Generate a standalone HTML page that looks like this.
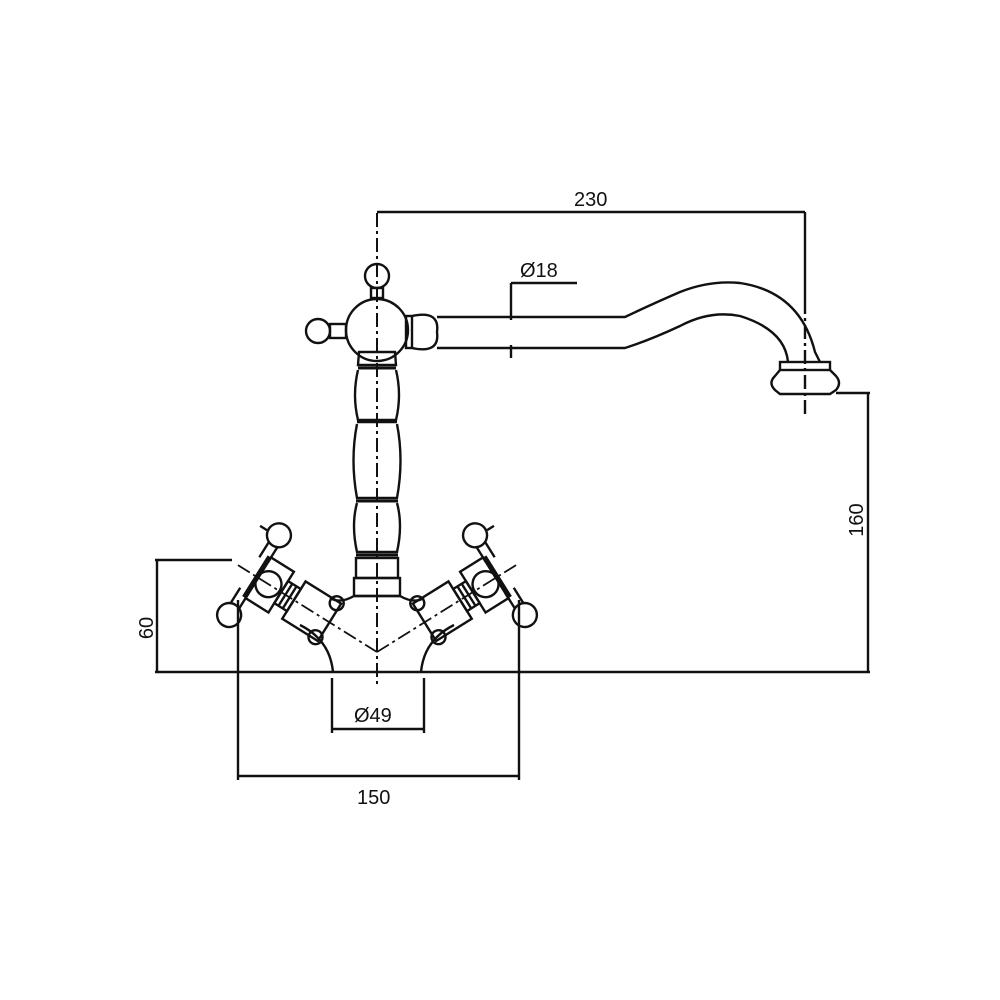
<!DOCTYPE html>
<html><head><meta charset="utf-8"><style>
html,body{margin:0;padding:0;background:#fff;}
svg{display:block}
text{font-family:"Liberation Sans",Arial,sans-serif;font-size:20px;fill:#111}
</style></head><body>
<svg width="1000" height="1000" viewBox="0 0 1000 1000" xmlns="http://www.w3.org/2000/svg">
<g fill="none" stroke="#111" stroke-width="2.4">
<line x1="377" y1="213" x2="377" y2="685" stroke-dasharray="14,4,3,4" stroke-width="2"/>
<line x1="377" y1="212" x2="805" y2="212"/>
<line x1="805" y1="212" x2="805" y2="300"/>
<line x1="805" y1="300" x2="805" y2="418" stroke-dasharray="14,4,3,4"/>
<circle cx="377" cy="276" r="12"/>
<rect x="371" y="288" width="12" height="10"/>
<circle cx="377" cy="330" r="31"/>
<circle cx="318" cy="331" r="12"/>
<rect x="330" y="324" width="16" height="14"/>
<rect x="406" y="316" width="6" height="32"/>
<path d="M412 316 Q440 310 437 332 Q440 354 412 348"/>
<path d="M437 317 L625 317 Q650 305 680 292 Q710 280 740 283 Q800 292 815 352 L820 362"/>
<path d="M437 348 L625 348 Q650 340 680 326 Q710 310 740 316 Q785 330 788 362"/>
<rect x="780" y="362" width="50" height="8"/>
<path d="M780 370 L775 376 Q768 383 775 390 L780 394 L830 394 L836 390 Q842 383 836 376 L830 370"/>
<line x1="511" y1="283" x2="577" y2="283"/>
<line x1="511" y1="283" x2="511" y2="320"/>
<line x1="511" y1="345" x2="511" y2="358"/>
<path d="M359 352 L395 352 L396 365 L358 365 Z"/>
<line x1="358" y1="368" x2="396" y2="368" stroke-width="3"/>
<path d="M358 370 Q352 395 358 420 L396 420 Q402 395 396 370"/>
<line x1="357" y1="422" x2="397" y2="422"/>
<path d="M357 424 Q350 460 357 498 L397 498 Q404 460 397 424"/>
<line x1="356" y1="501" x2="398" y2="501" stroke-width="3"/>
<path d="M357 503 Q351 525 357 552 L397 552 Q403 525 397 503"/>
<line x1="356" y1="555" x2="398" y2="555" stroke-width="3"/>
<rect x="356" y="558" width="42" height="20"/>
<rect x="354" y="578" width="46" height="18"/>
<path d="M333 672 Q330 640 300 625"/>
<path d="M421 672 Q424 640 454 625"/>
<path d="M330 598 Q340 604 354 596 L400 596 Q414 604 424 598"/>
<g transform="translate(377,652) rotate(32)">
<line x1="0" y1="0" x2="-165" y2="0" stroke-dasharray="14,4,3,4" stroke-width="1.8"/>
<rect x="-98" y="-22" width="42" height="44"/>
<circle cx="-60" cy="-20" r="7"/><circle cx="-60" cy="20" r="7"/>
<rect x="-113" y="-13" width="15" height="26"/>
<line x1="-108" y1="-13" x2="-108" y2="13"/><line x1="-103" y1="-13" x2="-103" y2="13"/>
<rect x="-140" y="-24" width="27" height="48"/>
<line x1="-142" y1="-24" x2="-142" y2="24" stroke-width="4"/>
<circle cx="-128" cy="0" r="13"/>
<line x1="-150" y1="-18" x2="-150" y2="-36"/><line x1="-140" y1="-18" x2="-140" y2="-36"/>
<line x1="-150" y1="18" x2="-150" y2="36"/><line x1="-140" y1="18" x2="-140" y2="36"/>
<circle cx="-145" cy="-47" r="12"/><circle cx="-145" cy="47" r="12"/>
<line x1="-158" y1="-45" x2="-170" y2="-45" stroke-dasharray="8,4"/>
</g>
<g transform="translate(754,0) scale(-1,1)">
<g transform="translate(377,652) rotate(32)">
<line x1="0" y1="0" x2="-165" y2="0" stroke-dasharray="14,4,3,4" stroke-width="1.8"/>
<rect x="-98" y="-22" width="42" height="44"/>
<circle cx="-60" cy="-20" r="7"/><circle cx="-60" cy="20" r="7"/>
<rect x="-113" y="-13" width="15" height="26"/>
<line x1="-108" y1="-13" x2="-108" y2="13"/><line x1="-103" y1="-13" x2="-103" y2="13"/>
<rect x="-140" y="-24" width="27" height="48"/>
<line x1="-142" y1="-24" x2="-142" y2="24" stroke-width="4"/>
<circle cx="-128" cy="0" r="13"/>
<line x1="-150" y1="-18" x2="-150" y2="-36"/><line x1="-140" y1="-18" x2="-140" y2="-36"/>
<line x1="-150" y1="18" x2="-150" y2="36"/><line x1="-140" y1="18" x2="-140" y2="36"/>
<circle cx="-145" cy="-47" r="12"/><circle cx="-145" cy="47" r="12"/>
<line x1="-158" y1="-45" x2="-170" y2="-45" stroke-dasharray="8,4"/>
</g></g>
<line x1="155" y1="672" x2="870" y2="672"/>
<line x1="155" y1="560" x2="232" y2="560"/>
<line x1="157" y1="560" x2="157" y2="672"/>
<line x1="836" y1="393" x2="870" y2="393"/>
<line x1="868" y1="393" x2="868" y2="672"/>
<line x1="332" y1="678" x2="332" y2="733"/>
<line x1="424" y1="678" x2="424" y2="733"/>
<line x1="332" y1="729" x2="424" y2="729"/>
<line x1="238" y1="600" x2="238" y2="780"/>
<line x1="519" y1="600" x2="519" y2="780"/>
<line x1="238" y1="776" x2="519" y2="776"/>
</g>
<text x="574" y="206">230</text>
<text x="520" y="277">Ø18</text>
<text x="354" y="722">Ø49</text>
<text x="357" y="804">150</text>
<text transform="translate(153,628) rotate(-90)" text-anchor="middle">60</text>
<text transform="translate(863,520) rotate(-90)" text-anchor="middle">160</text>
</svg>
</body></html>
